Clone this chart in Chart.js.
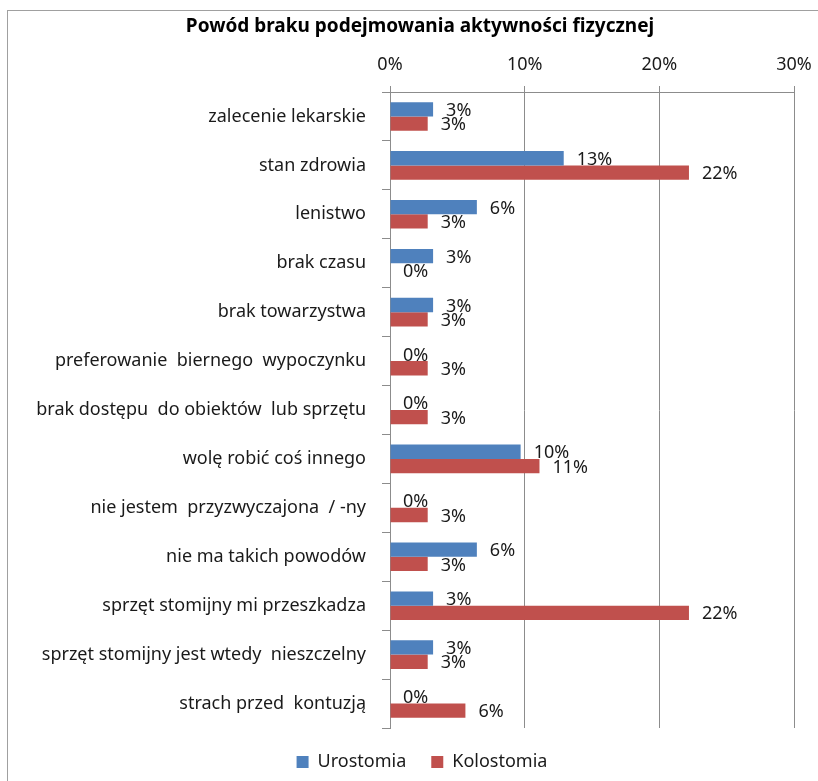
<!DOCTYPE html>
<html lang="pl">
<head>
<meta charset="utf-8">
<title>Powód braku podejmowania aktywności fizycznej</title>
<script src="https://cdn.jsdelivr.net/npm/chart.js@4"></script>
<style>
  html, body { margin: 0; padding: 0; background: #fff; }
  #wrap { position: relative; width: 818px; height: 781px; overflow: hidden; }
  #frame { position: absolute; left: 7px; top: 10px; width: 830px; height: 800px;
           border: 1px solid #a0a0a0; box-sizing: border-box; }
  canvas { position: absolute; left: 0; top: 0; }
</style>
</head>
<body>
<div id="wrap">
  <div id="frame"></div>
  <canvas id="c" width="818" height="781"></canvas>
</div>
<script>
// Reasons for not doing physical activity, share of respondents (%)
const categories = [
  'zalecenie lekarskie',
  'stan zdrowia',
  'lenistwo',
  'brak czasu',
  'brak towarzystwa',
  'preferowanie  biernego  wypoczynku',
  'brak dostępu  do obiektów  lub sprzętu',
  'wolę robić coś innego',
  'nie jestem  przyzwyczajona  / -ny',
  'nie ma takich powodów',
  'sprzęt stomijny mi przeszkadza',
  'sprzęt stomijny jest wtedy  nieszczelny',
  'strach przed  kontuzją'
];
const seriesNames = ['Urostomia', 'Kolostomia'];
const urostomia  = [3.2, 12.9, 6.45, 3.2, 3.2, 0, 0, 9.7, 0, 6.45, 3.2, 3.2, 0];
const kolostomia = [2.8, 22.2, 2.8, 0, 2.8, 2.8, 2.8, 11.1, 2.8, 2.8, 22.2, 2.8, 5.6];
const xTicks = [0, 10, 20, 30];
const chartTitle = 'Powód braku podejmowania aktywności fizycznej';

const FONT = "'Noto Sans', 'DejaVu Sans', sans-serif";
const TEXT = '#1a1a1a';
const GRID = '#8c8c8c';

// Title, drawn centred over the frame
const titlePlugin = {
  id: 'frameTitle',
  afterDraw(chart) {
    const ctx = chart.ctx;
    ctx.save();
    ctx.font = 'bold 19px ' + FONT;
    ctx.fillStyle = '#000';
    ctx.textAlign = 'center';
    ctx.textBaseline = 'middle';
    ctx.fillText(chartTitle, 420, 27);
    ctx.restore();
  }
};

// Value labels just past the end of each bar
const valueLabels = {
  id: 'valueLabels',
  afterDatasetsDraw(chart) {
    const ctx = chart.ctx;
    ctx.save();
    ctx.font = '18px ' + FONT;
    ctx.fillStyle = TEXT;
    ctx.textAlign = 'left';
    ctx.textBaseline = 'middle';
    chart.data.datasets.forEach((ds, di) => {
      const meta = chart.getDatasetMeta(di);
      meta.data.forEach((bar, i) => {
        const v = ds.data[i];
        ctx.fillText(Math.round(v) + '%', bar.x + 13, bar.y + 1.5);
      });
    });
    ctx.restore();
  }
};

// Centre the legend under the frame rather than the canvas
const legendShift = {
  id: 'legendShift',
  afterLayout(chart) {
    const lg = chart.legend;
    if (lg) { lg.left += 25; lg.right += 25; }
  }
};

new Chart(document.getElementById('c'), {
  type: 'bar',
  data: {
    labels: categories,
    datasets: [
      { label: seriesNames[0], data: urostomia, backgroundColor: '#4F81BD',
        borderWidth: 0, categoryPercentage: 0.585, barPercentage: 1.0 },
      { label: seriesNames[1], data: kolostomia, backgroundColor: '#C0504D',
        borderWidth: 0, categoryPercentage: 0.585, barPercentage: 1.0 }
    ]
  },
  options: {
    indexAxis: 'y',
    responsive: false,
    animation: false,
    devicePixelRatio: 1,
    layout: { padding: { top: 0, right: 24, bottom: 0, left: 0 } },
    scales: {
      x: {
        position: 'top',
        min: 0, max: 30,
        afterBuildTicks(scale) { scale.ticks = xTicks.map(v => ({ value: v })); },
        afterFit(scale) {
          scale.height = 92;
          scale.paddingLeft = 0;
          scale.paddingRight = 0;
        },
        ticks: {
          font: { family: FONT, size: 18 },
          color: TEXT,
          padding: 10,
          callback: v => v + '%'
        },
        grid: { color: GRID, lineWidth: 1, tickLength: 6 },
        border: { display: true, color: GRID, width: 1 }
      },
      y: {
        afterFit(scale) { scale.width = 390; },
        ticks: {
          font: { family: FONT, size: 18 },
          color: TEXT,
          padding: 16
        },
        grid: { offset: true, drawOnChartArea: false, color: GRID, tickLength: 8 },
        border: { display: true, color: GRID, width: 1 }
      }
    },
    plugins: {
      title: { display: false },
      tooltip: { enabled: false },
      legend: {
        position: 'bottom',
        labels: {
          font: { family: FONT, size: 18 },
          color: TEXT,
          boxWidth: 12,
          boxHeight: 12,
          padding: 25
        }
      }
    }
  },
  plugins: [titlePlugin, valueLabels, legendShift]
});
</script>
</body>
</html>
